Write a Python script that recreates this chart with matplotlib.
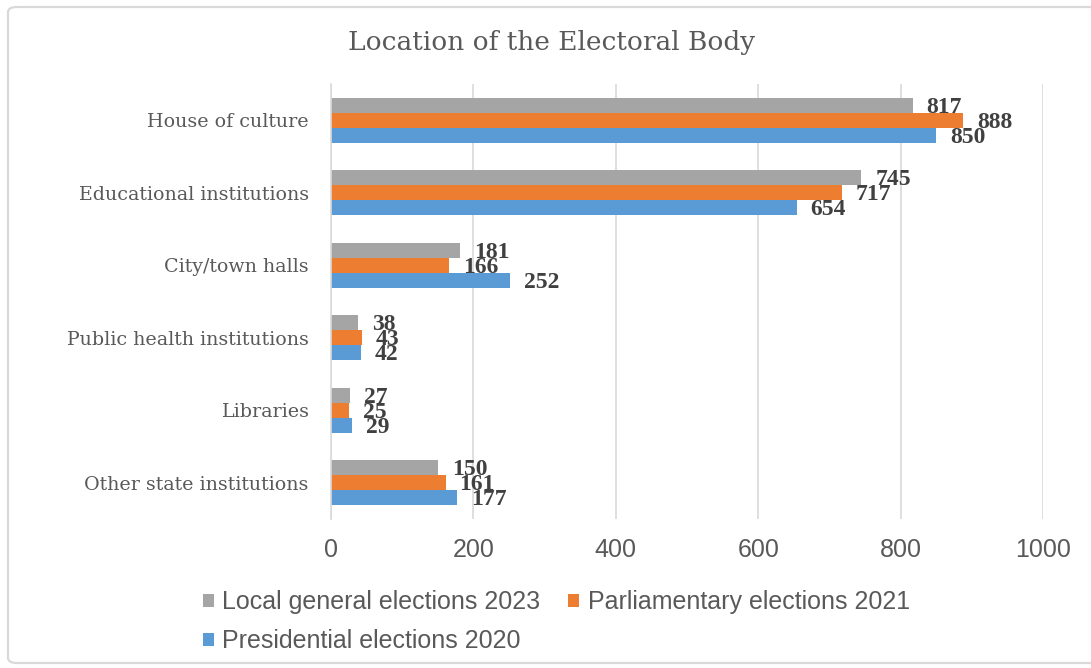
import matplotlib
matplotlib.use("Agg")
import matplotlib.pyplot as plt
from matplotlib.patches import FancyBboxPatch, Patch
import numpy as np

categories = ["House of culture", "Educational institutions", "City/town halls",
              "Public health institutions", "Libraries", "Other state institutions"]
local_2023 = [817, 745, 181, 38, 27, 150]
parliamentary_2021 = [888, 717, 166, 43, 25, 161]
presidential_2020 = [850, 654, 252, 42, 29, 177]
series_names = ["Local general elections 2023", "Parliamentary elections 2021",
                "Presidential elections 2020"]
x_ticks = [0, 200, 400, 600, 800, 1000]

colors = ["#A5A5A5", "#ED7D31", "#5B9BD5"]
text_col = "#595959"
serif = ["DejaVu Serif"]
label_serif = ["Liberation Serif", "DejaVu Serif"]
sans = ["Liberation Sans Narrow", "Liberation Sans", "DejaVu Sans"]

fig = plt.figure(figsize=(10.91, 6.68), dpi=100)
fig.patch.set_facecolor("white")

# outer chart frame
frame = FancyBboxPatch((8 / 1091, 1 - 663 / 668), 1.2, (663 - 7) / 668,
                       boxstyle="round,pad=0,rounding_size=0.008",
                       transform=fig.transFigure, fill=False,
                       edgecolor="#D9D9D9", linewidth=1.6)
fig.patches.append(frame)

ax = fig.add_axes([331 / 1091, 1 - 519 / 668, (1043 - 331) / 1091, (519 - 84) / 668])

y = np.arange(len(categories))
h = 0.2066
all_series = [local_2023, parliamentary_2021, presidential_2020]
for k, (vals, col) in enumerate(zip(all_series, colors)):
    pos = y + (k - 1) * h
    ax.barh(pos, vals, height=h, color=col, zorder=3)
    for p, v in zip(pos, vals):
        ax.annotate(str(v), xy=(v, p), xytext=(10, -1.5), textcoords="offset points",
                    ha="left", va="center", fontsize=17, fontweight="bold",
                    family=label_serif, color="#404040", zorder=4)

ax.set_ylim(len(categories) - 0.5, -0.5)
ax.set_xlim(0, 1000)
ax.set_xticks(x_ticks)
ax.set_xticklabels([str(t) for t in x_ticks], family=sans, fontsize=18, color=text_col)
ax.set_yticks(y)
ax.set_yticklabels(categories, family=serif, fontsize=13.7, color=text_col)
ax.tick_params(axis="both", length=0)
ax.tick_params(axis="y", pad=16)
ax.tick_params(axis="x", pad=14)

ax.grid(axis="x", color="#D9D9D9", linewidth=1.2, zorder=0)
for s in ["top", "right", "bottom"]:
    ax.spines[s].set_visible(False)
ax.spines["left"].set_color("#D9D9D9")
ax.spines["left"].set_linewidth(1.2)
ax.spines["left"].set_zorder(3.5)

fig.text(0.506, 0.936, "Location of the Electoral Body", ha="center", va="center",
         fontsize=19, family=serif, color=text_col)

handles = [Patch(facecolor=c, edgecolor="none") for c in colors]
order = [0, 2, 1]
leg = fig.legend([handles[i] for i in order], [series_names[i] for i in order],
                 ncol=2, loc="upper left", bbox_to_anchor=(190 / 1091, 1 - 578 / 668),
                 frameon=False, borderpad=0, handlelength=0.45, handleheight=0.45,
                 handletextpad=0.35, columnspacing=1.1, labelspacing=0.6,
                 prop={"family": sans, "size": 18})
for t in leg.get_texts():
    t.set_color(text_col)

fig.savefig("out.png", dpi=100, facecolor="white")
